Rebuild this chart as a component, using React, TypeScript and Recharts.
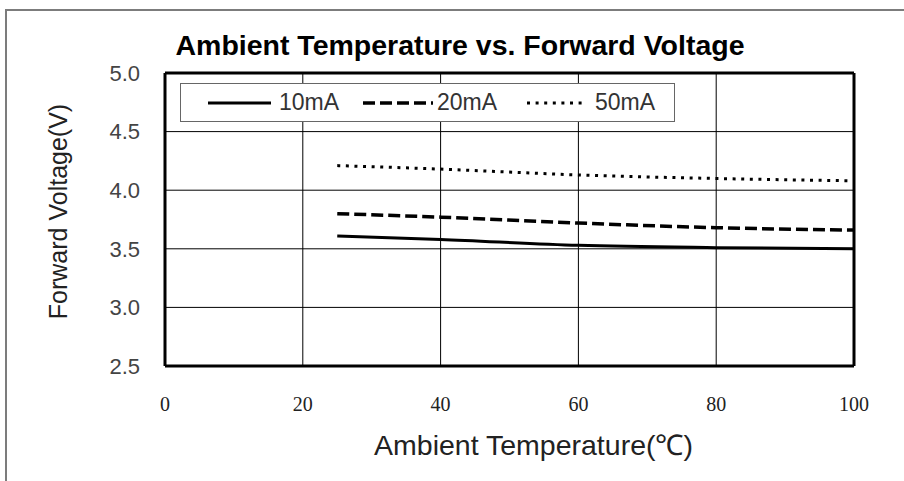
import { LineChart, Line, XAxis, YAxis, CartesianGrid, ReferenceLine, Legend, Label } from 'recharts';

const temps = [25, 40, 60, 80, 100];
const vf10mA = [3.61, 3.58, 3.53, 3.51, 3.5];
const vf20mA = [3.8, 3.77, 3.72, 3.68, 3.66];
const vf50mA = [4.21, 4.18, 4.13, 4.1, 4.08];
const xTicks = [0, 20, 40, 60, 80, 100];
const yTicks = [2.5, 3.0, 3.5, 4.0, 4.5, 5.0];

const series = [
  { key: 'i10', name: '10mA', dash: undefined as string | undefined, width: 3 },
  { key: 'i20', name: '20mA', dash: '12 5', width: 3.5 },
  { key: 'i50', name: '50mA', dash: '3 5.6', width: 3 },
];

const chartData = temps.map((t, i) => ({
  temp: t,
  i10: vf10mA[i],
  i20: vf20mA[i],
  i50: vf50mA[i],
}));

const FONT = '"Liberation Sans", Arial, sans-serif';

// legend swatch/label x offsets inside the legend box
const legendPos = [
  { x1: 27, x2: 90, tx: 98 },
  { x1: 182, x2: 252, tx: 256 },
  { x1: 346, x2: 402, tx: 414 },
];

function LegendBox() {
  return (
    <div
      style={{
        position: 'relative',
        boxSizing: 'border-box',
        width: 495,
        height: 39,
        border: '1px solid #666',
        background: '#fff',
      }}
    >
      {series.map((s, i) => (
        <div key={s.key}>
          <svg
            width={legendPos[i].x2 - legendPos[i].x1}
            height={8}
            style={{ position: 'absolute', left: legendPos[i].x1, top: 15 }}
          >
            <line
              x1={0}
              x2={legendPos[i].x2 - legendPos[i].x1}
              y1={4}
              y2={4}
              stroke="#000"
              strokeWidth={s.width}
              strokeDasharray={s.dash}
            />
          </svg>
          <span
            style={{
              position: 'absolute',
              left: legendPos[i].tx,
              top: 5,
              fontFamily: FONT,
              fontSize: 23,
              lineHeight: '26px',
              color: '#333',
            }}
          >
            {s.name}
          </span>
        </div>
      ))}
    </div>
  );
}

export default function App() {
  return (
    <div style={{ position: 'absolute', left: 0, top: 0, width: 904, height: 481, overflow: 'hidden', background: '#fff' }}>
      <div
        style={{
          position: 'absolute',
          left: 5,
          top: 9,
          width: 1000,
          height: 600,
          borderTop: '2px solid #7c7c7c',
          borderLeft: '2px solid #7c7c7c',
        }}
      />
      <div
        style={{
          position: 'absolute',
          left: 160,
          top: 29,
          width: 600,
          textAlign: 'center',
          fontFamily: FONT,
          fontWeight: 'bold',
          fontSize: 28.5,
          lineHeight: '32px',
          color: '#000',
          whiteSpace: 'nowrap',
        }}
      >
        Ambient Temperature vs. Forward Voltage
      </div>
      <LineChart
        width={904}
        height={481}
        data={chartData}
        margin={{ top: 73, right: 50, bottom: 85, left: 105 }}
        style={{ position: 'absolute', left: 0, top: 0 }}
      >
        <CartesianGrid stroke="#000" strokeWidth={1} verticalValues={xTicks} horizontalValues={yTicks} />
        <XAxis
          type="number"
          dataKey="temp"
          domain={[0, 100]}
          ticks={xTicks}
          height={30}
          axisLine={false}
          tickLine={false}
          tickSize={6}
          tickMargin={25}
          tick={{ fontFamily: '"Liberation Serif", "Times New Roman", serif', fontSize: 20, fill: '#222' }}
        >
          <Label
            value="Ambient Temperature(℃)"
            position="bottom"
            offset={39}
            dx={24}
            style={{ fontFamily: FONT, fontSize: 28.5, fill: '#222' }}
          />
        </XAxis>
        <YAxis
          type="number"
          domain={[2.5, 5.0]}
          ticks={yTicks}
          width={60}
          axisLine={false}
          tickLine={false}
          tickSize={6}
          tickMargin={19}
          tickFormatter={(v: number) => v.toFixed(1)}
          tick={{ fontFamily: FONT, fontSize: 22, fill: '#444' }}
        >
          <Label
            value="Forward Voltage(V)"
            angle={-90}
            position="left"
            offset={47}
            dy={-8}
            style={{ fontFamily: FONT, fontSize: 25, fill: '#222', textAnchor: 'middle' }}
          />
        </YAxis>
        <ReferenceLine x={0} stroke="#000" strokeWidth={3} />
        <ReferenceLine x={100} stroke="#000" strokeWidth={3} />
        <ReferenceLine y={2.5} stroke="#000" strokeWidth={3} />
        <ReferenceLine y={5.0} stroke="#000" strokeWidth={3} />
        <Legend
          layout="horizontal"
          verticalAlign="middle"
          align="center"
          content={() => <LegendBox />}
          wrapperStyle={{ left: 180, top: 83, width: 495, height: 39 }}
        />
        {series.map(s => (
          <Line
            key={s.key}
            type="monotone"
            dataKey={s.key}
            name={s.name}
            stroke="#000"
            strokeWidth={s.width}
            strokeDasharray={s.dash}
            dot={false}
            activeDot={false}
            isAnimationActive={false}
          />
        ))}
      </LineChart>
    </div>
  );
}
